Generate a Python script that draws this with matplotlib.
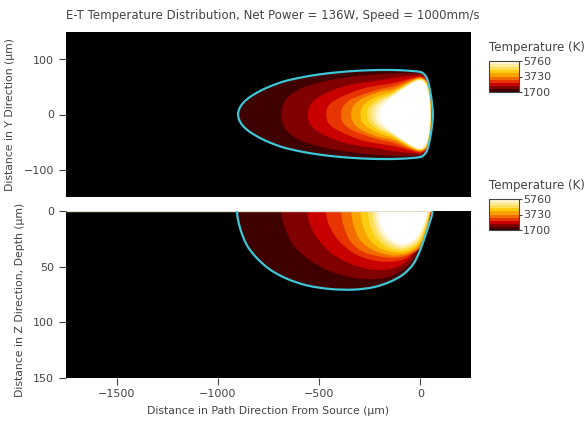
import matplotlib
matplotlib.use("Agg")
import matplotlib.pyplot as plt
import numpy as np
from matplotlib.path import Path
from matplotlib.patches import PathPatch
from matplotlib.colors import ListedColormap, BoundaryNorm
from matplotlib.colorbar import ColorbarBase

# contour levels (K) and the fill colour of each band above a level
levels = [1700, 2106, 2512, 2918, 3324, 3730, 4136, 4542, 4948, 5354, 5760]
band_colors = ['#3f0000', '#800000', '#c80000', '#e83400', '#f26c00',
               '#f9a300', '#ffcd10', '#ffdf5a', '#ffeb9c', '#fff6d6', '#ffffff']

# top view (y >= 0 half, mirrored about y = 0), one outline per level, in um
top_x = [
    [-900, -895, -880, -855, -826, -785, -743, -700, -661, -580, -497, -415,
     -332, -250, -168, -100, -37, -3, 15, 30, 40, 51, 58, 62],
    [-686, -669, -628, -562, -447, -299, -151, -69, -20, 5, 32, 46, 54, 58],
    [-555, -538, -480, -365, -201, -134, -69, -20, 5, 31, 44, 52, 56],
    [-464, -450, -398, -283, -134, -69, -20, 5, 30, 43, 51, 54.5],
    [-390, -380, -332, -217, -134, -69, -20, 5, 29, 42, 50, 53],
    [-340, -330, -285, -200, -134, -69, -20, 5, 28, 41, 49, 52],
    [-294, -285, -245, -180, -134, -69, -20, 5, 27, 40, 48, 51],
    [-262, -253, -215, -165, -134, -69, -20, 5, 26, 39, 47, 50],
    [-240, -231, -195, -155, -134, -69, -20, 5, 25, 38, 46, 49],
    [-222, -213, -180, -150, -134, -69, -20, 5, 24, 37, 45, 48],
    [-201, -192, -165, -134, -100, -69, -20, 5, 24, 36, 43, 46],
]
top_y = [
    [0, 9.5, 19, 28, 35.5, 44, 51, 57, 61.5, 68, 73, 76.5,
     79, 80.5, 81, 80.5, 79, 77.5, 74.5, 67.5, 57, 37, 18, 0],
    [0, 24, 39, 51, 62, 70, 74, 75, 74.5, 73.5, 65, 48, 24, 0],
    [0, 20, 36, 52, 62, 66, 69, 70.5, 70.5, 64, 49, 25, 0],
    [0, 17, 30, 47, 57, 63, 68, 68.5, 62, 48, 25, 0],
    [0, 15, 29, 44, 51, 60, 66, 67, 61, 47, 24, 0],
    [0, 15, 29, 41, 46, 57, 64.5, 65.5, 60, 46, 24, 0],
    [0, 14, 27, 37, 42, 55, 63.5, 64.5, 59, 45, 23, 0],
    [0, 13, 26, 34, 39, 53.5, 62.5, 63.5, 58, 44, 23, 0],
    [0, 13, 25, 32, 37, 52, 61.5, 62.5, 57, 43, 22, 0],
    [0, 13, 24, 31, 35, 51, 61, 62, 56, 42, 22, 0],
    [0, 12, 23, 33, 42, 49.5, 59, 60, 54, 41, 22, 0],
]

# side view (depth z >= 0), one outline per level, in um
side_x = [
    [-905, -891, -859, -809, -743, -661, -562, -447, -332, -234, -151, -86, -37, -3, 21, 43, 59],
    [-686, -669, -628, -562, -464, -349, -250, -168, -102, -44, -3, 21, 41, 54],
    [-555, -538, -497, -431, -332, -234, -151, -86, -37, 0, 30, 51],
    [-464, -448, -400, -316, -217, -135, -69, -20, 13, 34, 51],
    [-390, -376, -340, -265, -150, -65, 2, 29, 42, 49],
    [-340, -328, -295, -230, -135, -60, -2, 26, 40, 47],
    [-294, -284, -255, -200, -120, -55, -5, 24, 38, 45],
    [-258, -249, -223, -175, -110, -55, -8, 21, 36, 43],
    [-234, -226, -203, -160, -105, -55, -12, 18, 33, 41],
    [-220, -212, -190, -150, -100, -55, -15, 15, 30, 38],
    [-204, -196, -175, -140, -95, -50, -15, 10, 24, 32],
]
side_z = [
    [0, 14.5, 29.7, 41.8, 52.4, 60.6, 66.7, 70, 70.6, 68.5, 63.6, 57, 48, 35.8, 23.6, 11.5, 0],
    [0, 14.5, 29.7, 41.8, 52.4, 59, 61, 59.4, 54, 45, 31, 19, 8.5, 0],
    [0, 14.5, 26.7, 38.8, 48, 52.4, 51.8, 47.3, 38.8, 26.7, 13, 0],
    [0, 13, 26.7, 38.8, 44.5, 45, 42, 33, 21, 10, 0],
    [0, 14, 28, 37.5, 41.5, 39.5, 32, 19, 8, 0],
    [0, 13, 26, 35, 39.5, 37.5, 30.5, 18, 8, 0],
    [0, 12, 24, 33, 37, 35.5, 29, 17, 7, 0],
    [0, 11, 22, 31, 35, 33.5, 27.5, 16, 7, 0],
    [0, 10, 21, 29, 33, 31.5, 26, 15, 6, 0],
    [0, 10, 20, 27, 31, 29.5, 24, 14, 6, 0],
    [0, 10, 19, 26, 29, 27.5, 22, 13, 6, 0],
]

x_ticks = [-1500, -1000, -500, 0]
top_y_ticks = [-100, 0, 100]
side_y_ticks = [0, 50, 100, 150]
cbar_ticks = [1700, 3730, 5760]

GREY = '#444444'
CYAN = '#3ec6d6'


def smooth_loop(xs, ys):
    # outline half + its mirror image, drawn as a closed Catmull-Rom curve
    pts = list(zip(xs, ys)) + [(x, -y) for x, y in zip(xs[-2:0:-1], ys[-2:0:-1])]
    pts = np.array(pts, dtype=float)
    n = len(pts)
    verts = [pts[0]]
    codes = [Path.MOVETO]
    for i in range(n):
        p0, p1, p2, p3 = pts[i - 1], pts[i], pts[(i + 1) % n], pts[(i + 2) % n]
        verts += [p1 + (p2 - p0) / 6, p2 - (p3 - p1) / 6, p2]
        codes += [Path.CURVE4] * 3
    verts.append(pts[0])
    codes.append(Path.CLOSEPOLY)
    return Path(verts, codes)


def draw_pool(ax, xs_list, ys_list):
    for i, (xs, ys) in enumerate(zip(xs_list, ys_list)):
        c = band_colors[i]
        ax.add_patch(PathPatch(smooth_loop(xs, ys), facecolor=c, edgecolor=c,
                               lw=0.3, zorder=2 + i))
    ax.add_patch(PathPatch(smooth_loop(xs_list[0], ys_list[0]), fill=False,
                           edgecolor=CYAN, lw=1.6, zorder=30))


def style_axis(ax):
    ax.set_facecolor('black')
    for s in ax.spines.values():
        s.set_visible(False)
    ax.tick_params(colors=GREY, labelsize=8, length=5, width=0.8)


fig = plt.figure(figsize=(5.87, 4.26), dpi=100)
W, H = 587, 426

ax1 = fig.add_axes([66 / W, 1 - 197 / H, 405 / W, 165 / H])
ax2 = fig.add_axes([66 / W, 1 - 377.5 / H, 405 / W, 166 / H])

style_axis(ax1)
draw_pool(ax1, top_x, top_y)
ax1.set_xlim(-1750, 250)
ax1.set_ylim(-150, 150)
ax1.set_yticks(top_y_ticks)
ax1.set_xticks([])
ax1.set_ylabel('Distance in Y Direction (µm)', color=GREY, fontsize=7.8)
ax1.yaxis.set_label_coords(-0.126, 0.5)

style_axis(ax2)
draw_pool(ax2, side_x, side_z)
ax2.hlines(0, -1750, side_x[0][-1], colors='#e4dccb', lw=1.0, zorder=25)
ax2.set_xlim(-1750, 250)
ax2.set_ylim(150, 0)
ax2.set_yticks(side_y_ticks)
ax2.set_xticks(x_ticks)
ax2.set_xlabel('Distance in Path Direction From Source (µm)', color=GREY,
               fontsize=7.8, labelpad=5)
ax2.set_ylabel('Distance in Z Direction, Depth (µm)', color=GREY, fontsize=7.8)
ax2.yaxis.set_label_coords(-0.101, 0.47)

fig.text(273 / W, 1 - 15 / H,
         'E-T Temperature Distribution, Net Power = 136W, Speed = 1000mm/s',
         ha='center', va='center', color=GREY, fontsize=8.5)

cmap = ListedColormap(band_colors[:-1])
norm = BoundaryNorm(levels, cmap.N)
for top_px in (61, 199):
    cax = fig.add_axes([489 / W, 1 - (top_px + 31) / H, 30 / W, 31 / H])
    cb = ColorbarBase(cax, cmap=cmap, norm=norm, ticks=cbar_ticks,
                      orientation='vertical')
    cb.minorticks_off()
    cb.outline.set_edgecolor(GREY)
    cb.outline.set_linewidth(0.8)
    cax.tick_params(colors=GREY, labelsize=8, length=2, width=0.8, pad=1)
    fig.text(489 / W, 1 - (top_px - 13) / H, 'Temperature (K)',
             ha='left', va='center', color=GREY, fontsize=8.5)

fig.savefig('out.png', dpi=100)
